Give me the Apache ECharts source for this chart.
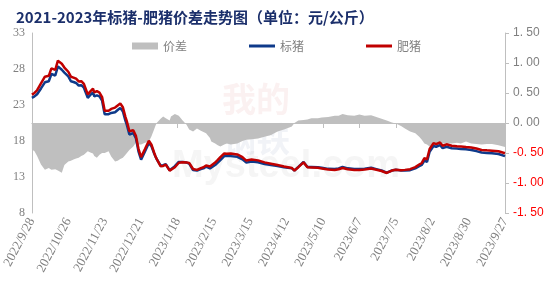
<!DOCTYPE html>
<html><head><meta charset="utf-8">
<script src="https://cdn.jsdelivr.net/npm/echarts@6/dist/echarts.min.js"></script>
<style>html,body{margin:0;padding:0;background:#fff}#c{width:554px;height:282px}</style>
</head><body><div id="c"></div>
<script>
const tickLabels = ['2022/9/28','2022/10/26','2022/11/23','2022/12/21','2023/1/18','2023/2/15','2023/3/15','2023/4/12','2023/5/10','2023/6/7','2023/7/5','2023/8/2','2023/8/30','2023/9/27'];

const dates = ['2022/9/28','2022/9/30','2022/10/2','2022/10/5','2022/10/8','2022/10/11','2022/10/13','2022/10/14','2022/10/16','2022/10/18','2022/10/21','2022/10/23','2022/10/26','2022/10/28','2022/10/30','2022/11/1','2022/11/3','2022/11/5','2022/11/7','2022/11/10','2022/11/12','2022/11/14','2022/11/15','2022/11/17','2022/11/19','2022/11/21','2022/11/23','2022/11/26','2022/11/28','2022/12/1','2022/12/3','2022/12/5','2022/12/7','2022/12/9','2022/12/10','2022/12/12','2022/12/15','2022/12/17','2022/12/19','2022/12/21','2022/12/24','2022/12/27','2022/12/29','2022/12/31','2023/1/1','2023/1/2','2023/1/5','2023/1/7','2023/1/9','2023/1/12','2023/1/13','2023/1/16','2023/1/19','2023/1/22','2023/1/25','2023/1/27','2023/1/30','2023/2/2','2023/2/5','2023/2/7','2023/2/9','2023/2/12','2023/2/13','2023/2/16','2023/2/18','2023/2/20','2023/2/23','2023/2/25','2023/2/28','2023/3/5','2023/3/9','2023/3/12','2023/3/16','2023/3/21','2023/3/26','2023/3/31','2023/4/5','2023/4/10','2023/4/16','2023/4/18','2023/4/21','2023/4/25','2023/4/28','2023/5/1','2023/5/6','2023/5/9','2023/5/14','2023/5/19','2023/5/22','2023/5/25','2023/5/29','2023/6/3','2023/6/7','2023/6/11','2023/6/16','2023/6/20','2023/6/24','2023/6/28','2023/7/2','2023/7/5','2023/7/9','2023/7/12','2023/7/16','2023/7/20','2023/7/23','2023/7/25','2023/7/27','2023/7/29','2023/7/31','2023/8/3','2023/8/5','2023/8/8','2023/8/10','2023/8/13','2023/8/17','2023/8/21','2023/8/24','2023/8/28','2023/9/1','2023/9/5','2023/9/9','2023/9/13','2023/9/17','2023/9/22','2023/9/27'];

const biaozhu = [24.0,24.2,24.5,25.3,26.15,26.3,27.3,27.55,27.1,28.37,27.9,27.5,26.98,26.3,26.2,26.06,25.7,25.75,25.4,24.0,24.4,24.76,24.2,24.35,24.2,23.6,21.7,21.72,21.9,22.0,22.3,22.6,22.1,20.8,20.27,18.9,19.1,18.4,16.56,15.4,16.56,17.72,17.26,16.3,15.87,15.5,14.57,14.65,14.8,13.93,14.0,14.5,15.1,15.1,15.0,14.85,13.97,13.9,14.1,14.2,14.43,14.2,14.3,14.67,15.0,15.36,15.9,15.9,15.9,15.8,15.45,15.0,15.15,15.05,14.8,14.65,14.53,14.35,14.2,13.9,14.4,15.08,14.4,14.4,14.35,14.28,14.13,14.1,14.2,14.4,14.2,14.1,14.1,14.15,14.3,14.1,13.9,13.6,13.9,14.0,13.9,13.9,13.95,14.2,14.5,14.67,15.27,15.1,16.5,17.3,17.2,17.44,17.0,17.2,17.0,16.95,16.9,16.85,16.75,16.6,16.4,16.35,16.3,16.2,15.9];

const feizhu = [24.44,24.67,25.05,25.99,26.93,27.05,28.08,28.33,27.87,29.16,28.73,28.2,27.62,26.93,26.81,26.65,26.28,26.3,25.93,24.47,24.89,25.27,24.75,24.93,24.73,24.1,22.2,22.19,22.46,22.64,22.93,23.2,22.68,21.33,20.77,19.35,19.49,18.73,16.92,15.76,16.89,18.03,17.48,16.41,15.92,15.5,14.5,14.54,14.72,13.89,13.89,14.35,14.98,15.06,15.03,14.96,14.11,13.99,14.23,14.35,14.6,14.45,14.61,15.01,15.37,15.75,16.26,16.24,16.26,16.14,15.75,15.28,15.42,15.31,15.03,14.85,14.67,14.46,14.26,13.9,14.36,15.03,14.34,14.32,14.27,14.19,14.03,13.98,14.08,14.25,14.07,13.98,13.96,14.03,14.17,14.0,13.83,13.56,13.89,14.01,13.95,13.99,14.09,14.37,14.73,14.95,15.61,15.46,16.89,17.7,17.57,17.79,17.34,17.54,17.34,17.28,17.24,17.16,17.09,16.95,16.76,16.7,16.65,16.57,16.3];

const jiacha = [-0.44,-0.47,-0.55,-0.69,-0.78,-0.75,-0.78,-0.78,-0.77,-0.79,-0.83,-0.7,-0.64,-0.63,-0.61,-0.59,-0.58,-0.55,-0.53,-0.47,-0.49,-0.51,-0.55,-0.58,-0.53,-0.5,-0.5,-0.47,-0.56,-0.64,-0.63,-0.6,-0.58,-0.53,-0.5,-0.45,-0.39,-0.33,-0.36,-0.36,-0.33,-0.31,-0.22,-0.11,-0.05,0,0.07,0.11,0.08,0.04,0.11,0.15,0.12,0.04,-0.03,-0.11,-0.14,-0.09,-0.13,-0.15,-0.17,-0.25,-0.31,-0.34,-0.37,-0.39,-0.36,-0.34,-0.36,-0.34,-0.3,-0.28,-0.27,-0.26,-0.23,-0.2,-0.14,-0.11,-0.06,0,0.04,0.05,0.06,0.08,0.08,0.09,0.1,0.12,0.12,0.15,0.13,0.12,0.14,0.12,0.13,0.1,0.07,0.04,0.01,-0.01,-0.05,-0.09,-0.14,-0.17,-0.23,-0.28,-0.34,-0.36,-0.39,-0.4,-0.37,-0.35,-0.34,-0.34,-0.34,-0.33,-0.34,-0.31,-0.34,-0.35,-0.36,-0.35,-0.35,-0.37,-0.4];

function dayIndex(s) {
  const p = s.split('/').map(Number);
  return Math.round((Date.UTC(p[0], p[1]-1, p[2]) - Date.UTC(2022, 8, 28)) / 86400000);
}
const xs = dates.map(dayIndex);
const pair = arr => arr.map((v, i) => [xs[i], v]);

const chart = echarts.init(document.getElementById('c'), null, {renderer: 'canvas'});
chart.setOption({
  animation: false,
  backgroundColor: '#ffffff',
  title: {
    text: '2021-2023年标猪-肥猪价差走势图（单位：元/公斤）',
    left: 11, top: 5,
    textStyle: {fontSize: 15, fontWeight: 'bold', color: '#1B2F6B', fontFamily: 'Noto Sans CJK SC'}
  },
  legend: {
    left: 127, top: 35, itemWidth: 26, itemHeight: 7, itemGap: 62,
    textStyle: {color: '#808080', fontSize: 12, fontFamily: 'Noto Sans CJK SC'},
    data: [
      {name: '价差', icon: 'rect'},
      {name: '标猪', icon: 'path://M0,0H26V3H0Z'},
      {name: '肥猪', icon: 'path://M0,0H26V3H0Z'}
    ]
  },
  grid: {left: 31, right: 49, top: 33, bottom: 69},
  xAxis: {
    type: 'value', min: 0, max: 364, interval: 28,
    splitLine: {show: false},
    axisLine: {lineStyle: {color: '#BFBFBF'}},
    axisTick: {show: true, length: 5, lineStyle: {color: '#BFBFBF'}},
    axisLabel: {
      rotate: 62, color: '#7F7F7F', fontSize: 13, fontFamily: 'Liberation Serif', margin: 6,
      formatter: v => tickLabels[Math.round(v / 28)] || ''
    }
  },
  yAxis: [
    {
      type: 'value', min: 8, max: 33, interval: 5,
      splitLine: {show: false},
      axisLine: {show: true, lineStyle: {color: '#BFBFBF'}},
      axisTick: {show: false},
      axisLabel: {color: '#7F7F7F', fontSize: 12, fontFamily: 'Liberation Serif', margin: 7}
    },
    {
      type: 'value', min: -1.5, max: 1.5, interval: 0.5,
      splitLine: {show: false},
      axisLine: {show: true, lineStyle: {color: '#BFBFBF'}},
      axisTick: {show: true, length: 4, lineStyle: {color: '#BFBFBF'}},
      axisLabel: {
        fontSize: 12, fontFamily: 'Liberation Sans', margin: 8,
        color: v => (Number(v) < 0 ? '#FF0000' : '#7F7F7F'),
        formatter: v => (v < 0 ? '-' : '') + Math.abs(v).toFixed(2).replace('.', '. ')
      }
    }
  ],
  graphic: [
    {type: 'text', left: 222, top: 82, style: {text: '我的', font: 'bold 34px "Noto Sans CJK SC"', fill: 'rgba(200,60,60,0.07)'}},
    {type: 'text', left: 222, top: 122, style: {text: '钢铁', font: 'bold 34px "Noto Sans CJK SC"', fill: 'rgba(60,80,140,0.07)'}},
    {type: 'text', left: 172, top: 148, style: {text: 'Mysteel.com', font: 'bold 38px "Liberation Sans"', fill: 'rgba(120,120,120,0.07)'}}
  ],
  series: [
    {
      name: '价差', type: 'line', yAxisIndex: 1, data: pair(jiacha),
      showSymbol: false, symbol: 'none', color: '#BFBFBF',
      lineStyle: {width: 0}, areaStyle: {color: '#BFBFBF', opacity: 1}
    },
    {
      name: '标猪', type: 'line', data: pair(biaozhu), showSymbol: false, symbol: 'none',
      color: '#0E3A8A', lineStyle: {width: 2.5, color: '#0E3A8A'}
    },
    {
      name: '肥猪', type: 'line', data: pair(feizhu), showSymbol: false, symbol: 'none',
      color: '#C00000', lineStyle: {width: 2.5, color: '#C00000'}
    }
  ]
});
</script></body></html>
